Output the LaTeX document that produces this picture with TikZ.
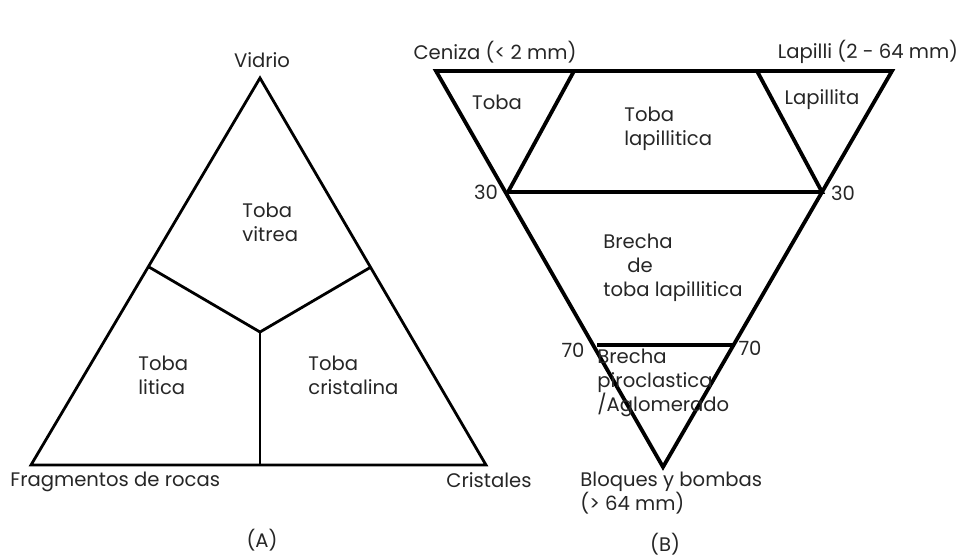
\documentclass[tikz,border=0pt]{standalone}
\usepackage{fontspec}
\setmainfont{Poppins}
\begin{document}
\begin{tikzpicture}[x=0.5pt,y=-0.5pt,
  edge/.style={line width=1.9pt,line join=miter},
  edgeA/.style={line width=1.4pt,line join=miter},
  lbl/.style={font=\fontsize{9.8}{12}\selectfont,inner sep=0pt,text=black!85},
  lblL/.style={lbl,align=left},
  lblC/.style={lbl,align=center}]
\useasboundingbox (0,0) rectangle (961,559);
% Triangle A
\coordinate (aT) at (260,78);
\coordinate (aL) at (31,465);
\coordinate (aR) at (486,465);
\coordinate (aC) at (260,332);
\coordinate (aML) at (149,267);
\coordinate (aMR) at (371,267);
\coordinate (aMB) at (260,465);
\draw[edgeA] (aT) -- (aL) -- (aR) -- cycle;
\draw[edgeA] (aML) -- (aC) -- (aMR);
\draw[edgeA] (aC) -- (aMB);
\node[lbl] (vid) at (262,60) {Vidrio};
\node[lblL,anchor=west] (tv) at (242,222) {Toba\\vitrea};
\node[lblL,anchor=west] (tl) at (138,375) {Toba\\litica};
\node[lblL,anchor=west] (tc) at (308,375) {Toba\\cristalina};
\node[lbl,anchor=west] (frag) at (10,482) {Fragmentos de rocas};
\node[lbl] (cri) at (489,480) {Cristales};
\node[lbl] (capA) at (262,540) {(A)};
% Triangle B
\coordinate (bL) at (436,71);
\coordinate (bR) at (892,71);
\coordinate (bB) at (663,467);
\coordinate (b30L) at (508,192);
\coordinate (b30R) at (822,192);
\coordinate (b70L) at (597,345);
\coordinate (b70R) at (734,345);
\coordinate (bi1) at (574,71);
\coordinate (bi2) at (757,71);
\draw[edge] (bL) -- (bR) -- (bB) -- cycle;
\draw[edge] (bi1) -- (b30L) -- (b30R) -- (bi2);
\draw[edge] (b70L) -- (b70R);
\node[lbl] (cen) at (495,52) {Ceniza (< 2 mm)};
\node[lbl] (lap) at (868,52) {Lapilli (2 - 64 mm)};
\node[lbl] (tob) at (497,102) {Toba};
\node[lblL,anchor=west] (tlap) at (624,129) {Toba\\lapillitica};
\node[lbl] (lapt) at (822,100) {Lapillita};
\node[lbl] (n30a) at (486,192) {30};
\node[lbl] (n30b) at (843,193) {30};
\node[lblL,anchor=west] (btl) at (603,268) {Brecha\\\hspace*{12pt}de\\toba lapillitica};
\node[lbl] (n70a) at (573,350) {70};
\node[lbl] (n70b) at (750,348) {70};
\node[lblL,anchor=west] (bpa) at (597,383) {Brecha\\piroclastica\\/Aglomerado};
\node[lblL,anchor=west] (bb) at (580,493) {Bloques y bombas\\(> 64 mm)};
\node[lbl] (capB) at (665,544) {(B)};
\end{tikzpicture}
\end{document}
